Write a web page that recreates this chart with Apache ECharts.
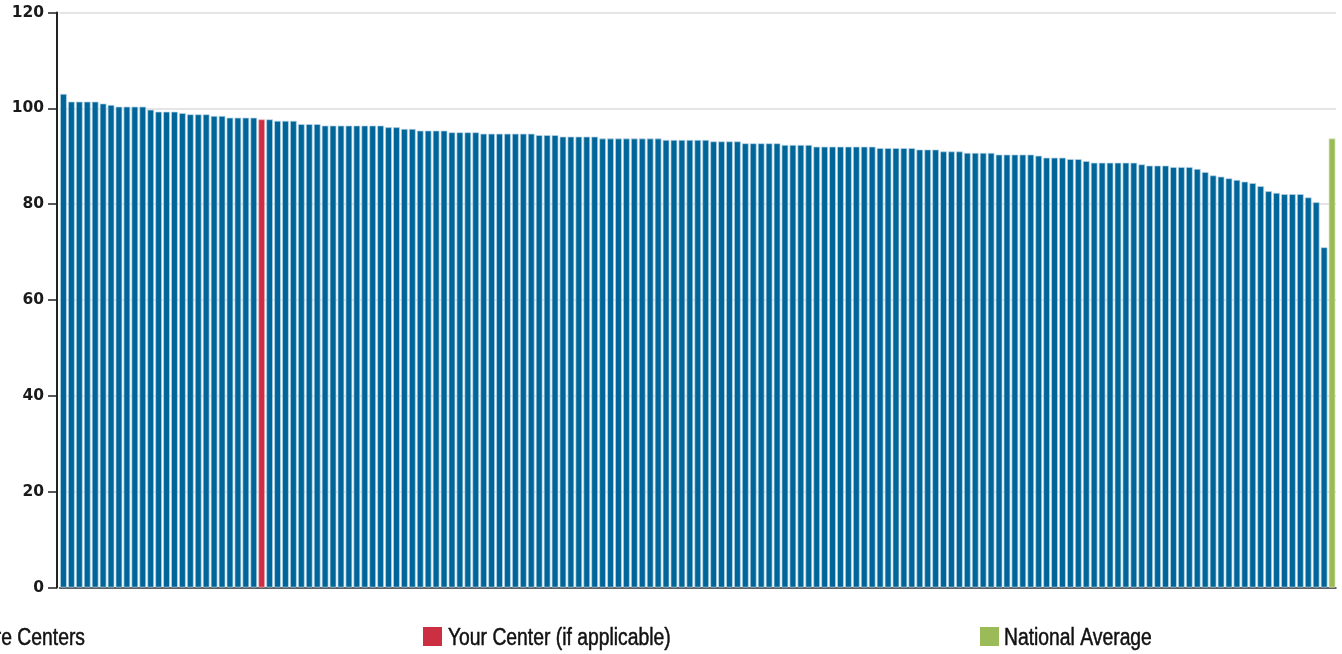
<!DOCTYPE html>
<html>
<head>
<meta charset="utf-8">
<script src="https://cdn.jsdelivr.net/npm/echarts@6/dist/echarts.min.js"></script>
<style>
html,body{margin:0;padding:0;background:#fff;}
#chart{width:1342px;height:654px;}
</style>
</head>
<body>
<div id="chart"></div>
<script>
// Scores of all centers, sorted descending (your center included at its rank)
const centerValues = [
  103.0, 101.4, 101.4, 101.4, 101.4, 101.0, 100.7, 100.35, 100.35, 100.35,
  100.35, 99.7, 99.3, 99.3, 99.3, 99.0, 98.75, 98.75, 98.75, 98.4,
  98.4, 98.05, 98.05, 98.05, 98.05, 97.7, 97.7, 97.4, 97.4, 97.4,
  96.7, 96.7, 96.7, 96.4, 96.4, 96.4, 96.4, 96.4, 96.4, 96.4,
  96.4, 96.05, 96.05, 95.7, 95.7, 95.35, 95.35, 95.35, 95.35, 95.0,
  95.0, 95.0, 95.0, 94.7, 94.7, 94.7, 94.7, 94.7, 94.7, 94.7,
  94.4, 94.4, 94.4, 94.1, 94.1, 94.1, 94.1, 94.1, 93.7, 93.7,
  93.7, 93.7, 93.7, 93.7, 93.7, 93.7, 93.4, 93.4, 93.4, 93.4,
  93.4, 93.4, 93.1, 93.1, 93.1, 93.1, 92.7, 92.7, 92.7, 92.7,
  92.7, 92.35, 92.35, 92.35, 92.35, 92.0, 92.0, 92.0, 92.0, 92.0,
  92.0, 92.0, 92.0, 91.7, 91.7, 91.7, 91.7, 91.7, 91.4, 91.4,
  91.4, 91.0, 91.0, 91.0, 90.7, 90.7, 90.7, 90.7, 90.35, 90.35,
  90.35, 90.35, 90.35, 90.1, 89.7, 89.7, 89.7, 89.4, 89.4, 89.0,
  88.65, 88.65, 88.65, 88.65, 88.65, 88.65, 88.3, 88.05, 88.05, 88.05,
  87.75, 87.75, 87.75, 87.35, 86.7, 86.0, 85.75, 85.4, 85.05, 84.7,
  84.4, 83.75, 82.7, 82.35, 82.1, 82.1, 82.1, 81.4, 80.4, 71.0
];
const yourCenterIndex = 25;
const nationalAverage = 93.7;
const seriesNames = ['All Child Care Centers', 'Your Center (if applicable)', 'National Average'];
const yTicks = [0, 20, 40, 60, 80, 100, 120];

const categories = centerValues.map((_, i) => 'Center ' + (i + 1)).concat(['National Average']);
const nCat = categories.length;
const blueData = categories.map((_, i) => (i < centerValues.length && i !== yourCenterIndex) ? centerValues[i] : '-');
const redData = categories.map((_, i) => i === yourCenterIndex ? centerValues[i] : '-');
const greenData = categories.map((_, i) => i === nCat - 1 ? nationalAverage : '-');

const colors = ['#006699', '#cc2f42', '#9bbb59'];

// Legend drawn as graphic items (condensed text via horizontal scaling)
const legendY = 627, iconSize = 19, textScale = 0.84;
function legendItem(name, color, iconX, textX, align) {
  return [
    {type: 'rect', silent: true, shape: {x: iconX, y: legendY, width: iconSize, height: iconSize},
     style: {fill: color}},
    {type: 'text', silent: true, x: textX, y: legendY + iconSize / 2 + 2.5, scaleX: textScale,
     style: {text: name, fill: '#111', stroke: '#111', lineWidth: 0.5,
             fontSize: 23, fontFamily: "'Liberation Sans', Arial, sans-serif",
             align: align, verticalAlign: 'middle', textAlign: align, textVerticalAlign: 'middle'}}
  ];
}

const chart = echarts.init(document.getElementById('chart'));
chart.setOption({
  animation: false,
  color: colors,
  grid: {left: 59.5, top: 12.5, bottom: 66.5, right: 6, containLabel: false},
  graphic: [].concat(
    legendItem(seriesNames[0], colors[0], -134, 85, 'right'),
    legendItem(seriesNames[1], colors[1], 423, 448, 'left'),
    legendItem(seriesNames[2], colors[2], 980, 1004, 'left')
  ),
  xAxis: {
    type: 'category', data: categories,
    axisLine: {lineStyle: {color: '#333', width: 1.5}},
    axisTick: {show: false}, axisLabel: {show: false}
  },
  yAxis: {
    type: 'value', min: yTicks[0], max: yTicks[yTicks.length - 1], interval: 20, offset: 2.5,
    axisLine: {show: true, lineStyle: {color: '#222', width: 2}},
    axisTick: {show: true, length: 9, lineStyle: {color: '#222', width: 1.5}},
    axisLabel: {margin: 13, fontFamily: 'DejaVu Sans', fontWeight: 'bold', fontSize: 15.5, color: '#1a1a1a'},
    splitLine: {lineStyle: {color: '#dcdcdc', width: 1.5}}
  },
  series: [
    {name: seriesNames[0], type: 'bar', data: blueData, barGap: '-100%', barCategoryGap: '16%',
     itemStyle: {color: colors[0], borderColor: '#b8d6e8', borderWidth: 0.7}},
    {name: seriesNames[1], type: 'bar', data: redData, barGap: '-100%', barCategoryGap: '16%',
     itemStyle: {color: colors[1], borderColor: '#f0b8c0', borderWidth: 0.7}},
    {name: seriesNames[2], type: 'bar', data: greenData, barGap: '-100%', barCategoryGap: '16%',
     itemStyle: {color: colors[2], borderColor: '#d6e6b8', borderWidth: 0.7}}
  ]
});
</script>
</body>
</html>
